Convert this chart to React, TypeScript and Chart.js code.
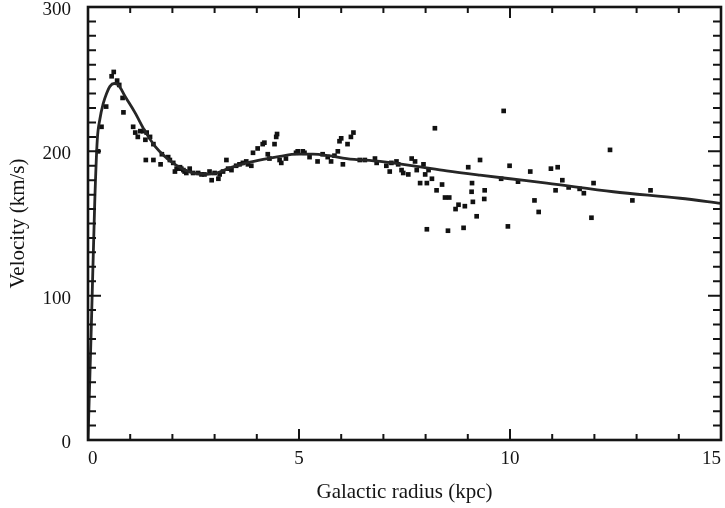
import { useEffect, useRef } from "react";
import { Chart, registerables } from "chart.js";

Chart.register(...registerables);

// Observed rotation-curve points (radius in kpc, velocity in km/s)
const radius = [
  0.24, 0.32, 0.43, 0.56, 0.61, 0.69, 0.74, 0.82, 0.84, 1.07, 1.12, 1.18, 1.24, 1.31, 1.36, 1.39, 1.47, 1.55,
  1.37, 1.55, 1.72, 1.75, 1.9, 1.94, 2.02, 2.06, 2.1, 2.18, 2.21, 2.26, 2.29, 2.33, 2.41, 2.49, 2.61, 2.69,
  2.76, 2.88, 2.93, 3.0, 3.09, 3.12, 3.2, 3.28, 3.32, 3.4, 3.51, 3.59, 3.67, 3.75, 3.79, 3.87, 3.91, 4.02,
  4.14, 4.18, 4.26, 4.3, 4.42, 4.46, 4.48, 4.54, 4.58, 4.69, 4.93, 4.97, 5.09, 5.13, 5.25, 5.44, 5.56, 5.68,
  5.76, 5.84, 5.92, 5.96, 6.0, 6.04, 6.15, 6.23, 6.29, 6.44, 6.56, 6.8, 6.84, 7.07, 7.15, 7.19, 7.31, 7.35,
  7.43, 7.47, 7.59, 7.67, 7.75, 7.79, 7.87, 7.95, 7.99, 8.03, 8.03, 8.07, 8.15, 8.22, 8.26, 8.39, 8.46, 8.53,
  8.56, 8.71, 8.78, 8.9, 8.93, 9.01, 9.09, 9.1, 9.12, 9.21, 9.29, 9.39, 9.4, 9.79, 9.85, 9.95, 9.99, 10.19,
  10.48, 10.58, 10.68, 10.97, 11.08, 11.13, 11.24, 11.39, 11.65, 11.75, 11.93, 11.98, 12.37, 12.9, 13.33,
];
const velocity = [
  200, 217, 231, 252, 255, 249, 246, 237, 227, 217, 213, 210, 214, 214, 208, 213, 210, 205,
  194, 194, 191, 198, 196, 194, 192, 186, 188, 189, 188, 187, 186, 185, 188, 185, 185, 184,
  184, 186, 180, 185, 181, 184, 186, 194, 188, 187, 190, 191, 192, 193, 191, 190, 199, 202,
  205, 206, 198, 195, 205, 210, 212, 194, 192, 195, 199, 200, 200, 199, 196, 193, 198, 196,
  193, 197, 200, 207, 209, 191, 205, 210, 213, 194, 194, 195, 192, 190, 186, 192, 193, 191,
  187, 185, 184, 195, 193, 187, 178, 191, 184, 178, 146, 187, 181, 216, 173, 177, 168, 145,
  168, 160, 163, 147, 162, 189, 172, 178, 165, 155, 194, 167, 173, 181, 228, 148, 190, 179,
  186, 166, 158, 188, 173, 189, 180, 175, 174, 171, 154, 178, 201, 166, 173,
];

// Model rotation curve
const curveRadius = [
  0, 0.08, 0.16, 0.22, 0.28, 0.36, 0.44, 0.52, 0.62, 0.72, 0.88, 1.11, 1.35, 1.59, 1.82, 2.06, 2.3, 2.58,
  2.81, 3.1, 3.36, 3.76, 4.15, 4.55, 4.95, 5.33, 5.7, 6.13, 6.92, 7.71, 8.5, 9.29, 10.0, 10.87, 12.45, 14.03, 15,
];
const curveVelocity = [
  0, 80, 165, 208, 222, 233, 240, 245, 247, 246, 238, 227, 214, 203.5, 196.5, 191, 187, 184.5,
  184, 185.5, 188.5, 192, 194.5, 196.5, 198, 198, 197, 195, 193, 190, 186.5, 183.5, 181, 178, 172, 167.5, 164,
];

const xTickValues = [0, 5, 10, 15];
const yTickValues = [0, 100, 200, 300];

const FONT = "'Liberation Serif', 'Times New Roman', serif";
const INK = "#141414";

const frameTicks = {
  id: "frameTicks",
  afterDatasetsDraw(chart: any) {
    const { ctx, chartArea: a, scales } = chart;
    const x = scales.x;
    const y = scales.y;
    ctx.save();
    ctx.strokeStyle = INK;
    ctx.lineWidth = 2;
    ctx.beginPath();
    for (let v = 1; v < 15; v++) {
      const px = x.getPixelForValue(v);
      const len = v % 5 === 0 ? 11 : 6;
      ctx.moveTo(px, a.bottom);
      ctx.lineTo(px, a.bottom - len);
      ctx.moveTo(px, a.top);
      ctx.lineTo(px, a.top + len);
    }
    for (let v = 10; v < 300; v += 10) {
      const py = y.getPixelForValue(v);
      const len = v % 100 === 0 ? 13 : 8;
      ctx.moveTo(a.left, py);
      ctx.lineTo(a.left + len, py);
      ctx.moveTo(a.right, py);
      ctx.lineTo(a.right - len, py);
    }
    ctx.stroke();
    ctx.lineWidth = 2.6;
    ctx.strokeRect(a.left, a.top, a.right - a.left, a.bottom - a.top);
    ctx.restore();
  },
};

export default function App() {
  const ref = useRef<HTMLCanvasElement | null>(null);

  useEffect(() => {
    document.body.style.margin = "0";
    const canvas = ref.current;
    if (!canvas) return;
    const chart = new Chart(canvas, {
      type: "scatter",
      data: {
        datasets: [
          {
            type: "line",
            label: "model",
            data: curveRadius.map((r, i) => ({ x: r, y: curveVelocity[i] })),
            borderColor: "#262626",
            borderWidth: 2.8,
            pointRadius: 0,
            fill: false,
            cubicInterpolationMode: "monotone",
            order: 1,
          } as any,
          {
            type: "scatter",
            label: "data",
            data: radius.map((r, i) => ({ x: r, y: velocity[i] })),
            pointStyle: "rect",
            pointRadius: 3.3,
            backgroundColor: "#111",
            borderColor: "#111",
            borderWidth: 0,
            order: 2,
          } as any,
        ],
      },
      options: {
        responsive: false,
        animation: false,
        devicePixelRatio: 1,
        layout: { padding: { top: 7, right: 2, left: 0, bottom: 0 } },
        plugins: { legend: { display: false }, tooltip: { enabled: false } },
        scales: {
          x: {
            type: "linear",
            min: 0,
            max: 15,
            afterBuildTicks: (s: any) => {
              s.ticks = xTickValues.map((v) => ({ value: v }));
            },
            ticks: {
              align: "inner",
              font: { family: FONT, size: 19 },
              color: INK,
              padding: 8,
              maxRotation: 0,
            },
            grid: { display: false, drawTicks: false },
            border: { display: false },
            title: {
              display: true,
              text: "Galactic radius (kpc)",
              font: { family: FONT, size: 21 },
              color: INK,
              padding: { top: 0, bottom: 3 },
            },
            afterFit: (s: any) => {
              s.height = 68;
              s.paddingLeft = 0;
              s.paddingRight = 0;
            },
          },
          y: {
            type: "linear",
            min: 0,
            max: 300,
            afterBuildTicks: (s: any) => {
              s.ticks = yTickValues.map((v) => ({ value: v }));
            },
            ticks: {
              font: { family: FONT, size: 19 },
              color: INK,
              padding: 17,
              labelOffset: 3,
            },
            grid: { display: false, drawTicks: false },
            border: { display: false },
            title: {
              display: true,
              text: "Velocity (km/s)",
              font: { family: FONT, size: 21 },
              color: INK,
              padding: { top: 6, bottom: 0 },
            },
            afterFit: (s: any) => {
              s.width = 88;
              s.paddingTop = 0;
              s.paddingBottom = 0;
            },
          },
        },
      } as any,
      plugins: [frameTicks],
    });
    return () => chart.destroy();
  }, []);

  return (
    <div style={{ width: 725, height: 508 }}>
      <canvas ref={ref} width={725} height={508} style={{ display: "block" }} />
    </div>
  );
}
